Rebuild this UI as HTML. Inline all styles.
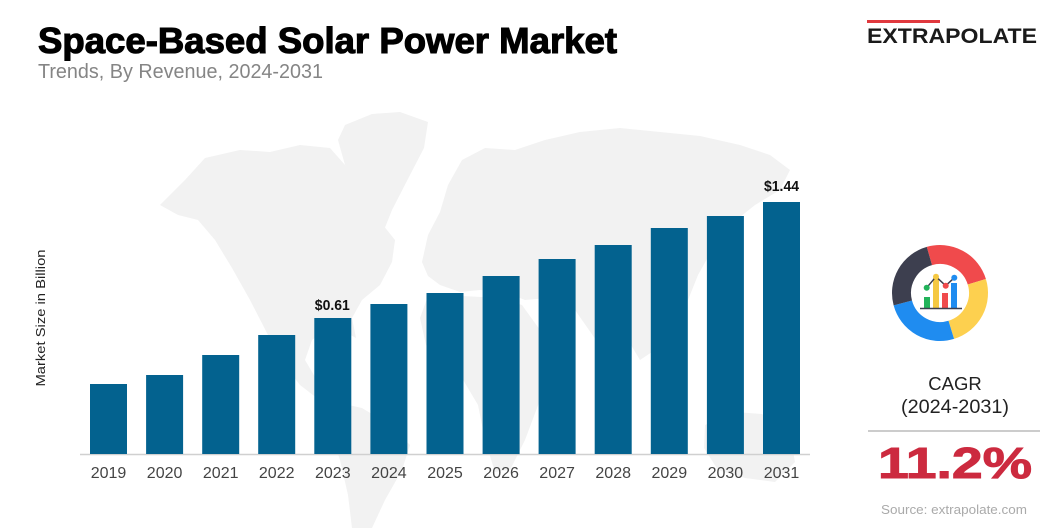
<!DOCTYPE html>
<html>
<head>
<meta charset="utf-8">
<style>
  html,body{margin:0;padding:0;background:#fff;}
  svg{display:block;}
  text{font-family:"Liberation Sans", Arial, sans-serif;}
</style>
</head>
<body>
<svg width="1056" height="528" viewBox="0 0 1056 528" xmlns="http://www.w3.org/2000/svg">
  <rect width="1056" height="528" fill="#ffffff"/>

  <!-- faint world map -->
  <g fill="#f2f2f2">
    <!-- North America -->
    <path d="M160,205 L185,180 L205,158 L240,150 L270,152 L300,145 L330,148 L345,165 L360,190 L375,215 L395,240 L392,262 L380,285 L362,300 L352,318 L356,338 L345,332 L325,330 L312,340 L305,360 L318,382 L332,400 L322,402 L300,385 L282,362 L268,335 L250,300 L232,268 L215,240 L198,220 L178,215 Z"/>
    <!-- Greenland -->
    <path d="M345,125 L372,114 L400,112 L428,122 L424,148 L410,175 L392,210 L380,240 L368,222 L358,195 L345,165 L338,140 Z"/>
    <!-- Eurasia -->
    <path d="M422,262 L428,235 L440,212 L448,185 L462,160 L485,148 L515,150 L545,140 L580,132 L620,128 L660,132 L700,136 L740,145 L770,155 L790,170 L780,190 L755,205 L730,225 L712,250 L698,275 L688,300 L672,330 L652,352 L640,360 L628,340 L612,328 L596,340 L582,320 L568,300 L548,298 L525,300 L505,292 L480,290 L460,292 L440,285 L428,276 Z"/>
    <!-- Africa -->
    <path d="M428,296 L462,296 L500,298 L522,305 L540,330 L562,345 L556,372 L540,400 L525,440 L510,470 L495,472 L485,440 L478,405 L462,378 L440,365 L426,345 L420,318 Z"/>
    <!-- South America -->
    <path d="M335,402 L362,408 L390,425 L410,445 L402,470 L385,500 L372,528 L352,528 L348,495 L340,460 L330,430 Z"/>
    <!-- Australia -->
    <path d="M705,425 L735,412 L762,414 L790,435 L795,462 L775,482 L745,478 L718,470 L704,448 Z"/>
  </g>

  <!-- Title -->
  <text x="38" y="53" font-size="36" font-weight="bold" fill="#000" stroke="#000" stroke-width="1.1" textLength="579" lengthAdjust="spacingAndGlyphs">Space-Based Solar Power Market</text>
  <text x="38" y="78" font-size="20" fill="#858585" textLength="285" lengthAdjust="spacingAndGlyphs">Trends, By Revenue, 2024-2031</text>

  <!-- Logo -->
  <rect x="867" y="20" width="73" height="3" fill="#e0393e"/>
  <text x="867" y="43" font-size="21" font-weight="bold" fill="#1a1a1a" textLength="170" lengthAdjust="spacingAndGlyphs">EXTRAPOLATE</text>

  <!-- Y axis label -->
  <text transform="translate(45,318) rotate(-90)" text-anchor="middle" font-size="12.5" fill="#222" textLength="137" lengthAdjust="spacingAndGlyphs">Market Size in Billion</text>

  <!-- axis line -->
  <line x1="80" y1="454.5" x2="810" y2="454.5" stroke="#d0d0d0" stroke-width="1.5"/>

  <!-- bars -->
  <g fill="#03628f">
    <rect x="90.0" y="384" width="37" height="70"/>
    <rect x="146.1" y="375" width="37" height="79"/>
    <rect x="202.2" y="355" width="37" height="99"/>
    <rect x="258.2" y="335" width="37" height="119"/>
    <rect x="314.3" y="318" width="37" height="136"/>
    <rect x="370.4" y="304" width="37" height="150"/>
    <rect x="426.5" y="293" width="37" height="161"/>
    <rect x="482.6" y="276" width="37" height="178"/>
    <rect x="538.6" y="259" width="37" height="195"/>
    <rect x="594.7" y="245" width="37" height="209"/>
    <rect x="650.8" y="228" width="37" height="226"/>
    <rect x="706.9" y="216" width="37" height="238"/>
    <rect x="763.0" y="202" width="37" height="252"/>
  </g>

  <!-- value labels -->
  <text x="332.3" y="310" text-anchor="middle" font-size="15" font-weight="bold" fill="#111" textLength="35" lengthAdjust="spacingAndGlyphs">$0.61</text>
  <text x="781.5" y="191" text-anchor="middle" font-size="15" font-weight="bold" fill="#111" textLength="35" lengthAdjust="spacingAndGlyphs">$1.44</text>

  <!-- year labels -->
  <g font-size="16" fill="#444" text-anchor="middle">
    <text x="108.5" y="478">2019</text>
    <text x="164.6" y="478">2020</text>
    <text x="220.7" y="478">2021</text>
    <text x="276.7" y="478">2022</text>
    <text x="332.8" y="478">2023</text>
    <text x="388.9" y="478">2024</text>
    <text x="445.0" y="478">2025</text>
    <text x="501.1" y="478">2026</text>
    <text x="557.1" y="478">2027</text>
    <text x="613.2" y="478">2028</text>
    <text x="669.3" y="478">2029</text>
    <text x="725.4" y="478">2030</text>
    <text x="781.5" y="478">2031</text>
  </g>

  <!-- donut icon -->
  <g fill="none" stroke-width="19">
    <path d="M929.39,255.99 A38.5,38.5 0 0 1 976.82,281.74" stroke="#f04a4c"/>
    <path d="M976.82,281.74 A38.5,38.5 0 0 1 951.26,329.82" stroke="#fdd04f"/>
    <path d="M951.26,329.82 A38.5,38.5 0 0 1 902.81,302.96" stroke="#1f8cf0"/>
    <path d="M902.81,302.96 A38.5,38.5 0 0 1 929.39,255.99" stroke="#3d3f4f"/>
  </g>
  <!-- inner chart glyph -->
  <rect x="924" y="297" width="6" height="11" fill="#22b35a"/>
  <rect x="933" y="278" width="6" height="30" fill="#f5c842"/>
  <rect x="942" y="293" width="6" height="15" fill="#f04a4c"/>
  <rect x="951" y="283" width="6" height="25" fill="#1f8cf0"/>
  <polyline points="926.7,287.7 936,276.7 945.7,285.7 954.3,277.7" fill="none" stroke="#3d3f4f" stroke-width="1.5"/>
  <circle cx="926.7" cy="287.7" r="3" fill="#22b35a"/>
  <circle cx="936" cy="276.7" r="3" fill="#f5c842"/>
  <circle cx="945.7" cy="285.7" r="3" fill="#f04a4c"/>
  <circle cx="954.3" cy="277.7" r="3" fill="#1f8cf0"/>
  <line x1="920" y1="308.5" x2="962" y2="308.5" stroke="#3d3f4f" stroke-width="1.5"/>

  <!-- CAGR -->
  <text x="955" y="390" text-anchor="middle" font-size="18.5" fill="#222">CAGR</text>
  <text x="955" y="413" text-anchor="middle" font-size="19" fill="#222" textLength="108" lengthAdjust="spacingAndGlyphs">(2024-2031)</text>
  <line x1="868" y1="431" x2="1040" y2="431" stroke="#cccccc" stroke-width="2"/>
  <text x="955" y="478" text-anchor="middle" font-size="44" font-weight="bold" fill="#cc2a3f" stroke="#cc2a3f" stroke-width="1" textLength="154" lengthAdjust="spacingAndGlyphs">11.2%</text>
  <text x="954" y="514" text-anchor="middle" font-size="12.5" fill="#aaaaaa" textLength="146" lengthAdjust="spacingAndGlyphs">Source: extrapolate.com</text>
</svg>
</body>
</html>
